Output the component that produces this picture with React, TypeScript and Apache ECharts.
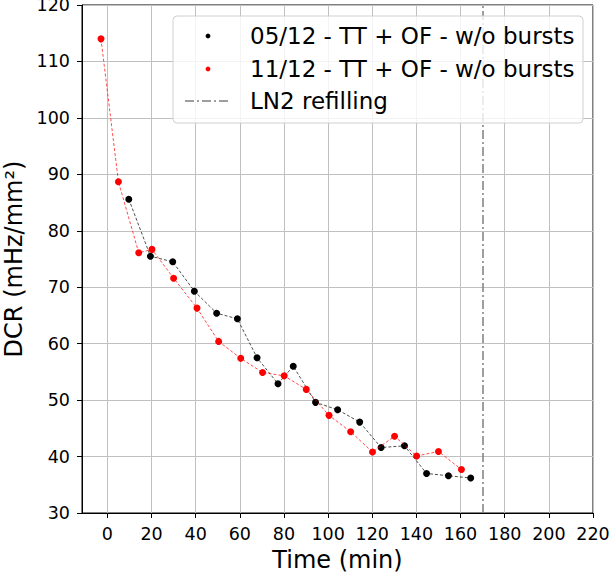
import React, { useEffect, useRef } from "react";
import * as echarts from "echarts";

const blackX = [9.7, 19.5, 29.6, 39.4, 49.5, 58.9, 67.8, 77.3, 84.2, 94.3, 104.3, 114.3, 124.0, 134.6, 144.6, 154.5, 164.6];
const blackY = [85.6, 75.5, 74.5, 69.3, 65.4, 64.4, 57.5, 52.9, 56.0, 49.6, 48.3, 46.1, 41.6, 41.9, 37.0, 36.6, 36.2];
const redX = [-2.9, 5.0, 14.2, 20.2, 30.0, 40.6, 50.4, 60.4, 70.3, 80.1, 90.1, 100.4, 110.2, 120.1, 130.1, 140.1, 150.0, 160.4];
const redY = [114.0, 88.7, 76.1, 76.7, 71.6, 66.3, 60.4, 57.4, 54.9, 54.3, 51.9, 47.3, 44.4, 40.8, 43.6, 40.1, 40.9, 37.7];
const refillX = 170;
const legendLabels = ["05/12 - TT + OF - w/o bursts", "11/12 - TT + OF - w/o bursts", "LN2 refilling"];
const xLabel = "Time (min)";
const yLabel = "DCR (mHz/mm²)";

const FONT = "DejaVu Sans";

export default function App() {
  const ref = useRef<HTMLDivElement>(null);
  useEffect(() => {
    if (!ref.current) return;
    const chart = echarts.init(ref.current, null, { renderer: "svg" });
    const pairs = (xs: number[], ys: number[]) => xs.map((x, i) => [x, ys[i]]);
    const legX = 173, legY = 16, legW = 410, legH = 107;
    chart.setOption({
      animation: false,
      backgroundColor: "#ffffff",
      grid: {
        left: 82, right: 23, top: 5, bottom: 60,
        containLabel: false,
        outerBoundsMode: "none",
        show: true, borderColor: "#000000", borderWidth: 1, backgroundColor: "transparent",
      },
      xAxis: {
        type: "value",
        min: -11.5,
        max: 220,
        splitNumber: 12,
        name: xLabel,
        nameLocation: "middle",
        nameGap: 31,
        nameTextStyle: { fontFamily: FONT, fontSize: 24, color: "#000" },
        axisLine: { show: true, onZero: false, lineStyle: { color: "#000", width: 1 } },
        axisTick: { show: true, length: 5, lineStyle: { color: "#000" } },
        axisLabel: {
          fontFamily: FONT, fontSize: 17.5, color: "#000", margin: 12,
          showMinLabel: false,
          hideOverlap: false,
          formatter: (v: number) => (Math.abs(v % 20) < 1e-6 ? String(v) : ""),
        },
        splitLine: { show: true, lineStyle: { color: "#c0c0c0", width: 1 } },
      },
      yAxis: {
        type: "value",
        min: 30,
        max: 120,
        interval: 10,
        name: yLabel,
        nameLocation: "middle",
        nameGap: 51,
        nameTextStyle: { fontFamily: FONT, fontSize: 24, color: "#000" },
        axisLine: { show: true, onZero: false, lineStyle: { color: "#000", width: 1 } },
        axisTick: { show: true, length: 5, lineStyle: { color: "#000" } },
        axisLabel: { fontFamily: FONT, fontSize: 17.5, color: "#000", margin: 12 },
        splitLine: { show: true, lineStyle: { color: "#c0c0c0", width: 1 } },
      },
      series: [
        {
          name: legendLabels[0],
          type: "line",
          data: pairs(blackX, blackY),
          symbol: "circle",
          symbolSize: 7,
          itemStyle: { color: "#000000" },
          lineStyle: { color: "#000000", width: 0.7, type: [3, 2] },
          z: 2,
          markLine: {
            silent: true,
            symbol: "none",
            label: { show: false },
            lineStyle: { color: "#7f7f7f", width: 1.5, type: [9, 3, 2, 3] },
            data: [{ xAxis: refillX }],
          },
        },
        {
          name: legendLabels[1],
          type: "line",
          data: pairs(redX, redY),
          symbol: "circle",
          symbolSize: 7,
          itemStyle: { color: "#ff0000" },
          lineStyle: { color: "#ff0000", width: 0.7, type: [3, 2] },
          z: 3,
        },
      ],
      graphic: [
        {
          type: "rect",
          shape: { x: legX, y: legY, width: legW, height: legH, r: 4 },
          style: { fill: "rgba(255,255,255,0.8)", stroke: "#d0d0d0", lineWidth: 1 },
          z: 100,
        },
        { type: "circle", shape: { cx: 208, cy: 36, r: 2.4 }, style: { fill: "#000" }, z: 101 },
        { type: "circle", shape: { cx: 208, cy: 69, r: 2.4 }, style: { fill: "#ff0000" }, z: 101 },
        {
          type: "line",
          shape: { x1: 185, y1: 101, x2: 230, y2: 101 },
          style: { stroke: "#7f7f7f", lineWidth: 1.5, lineDash: [9, 3, 2, 3] },
          z: 101,
        },
        ...legendLabels.map((t, i) => ({
          type: "text",
          x: 250,
          y: [36, 69, 101][i],
          style: { text: t, fontFamily: FONT, fontSize: 23, fill: "#000", textVerticalAlign: "middle", textAlign: "left" },
          z: 101,
        })),
      ],
    });
    return () => chart.dispose();
  }, []);
  return <div ref={ref} style={{ position: "absolute", left: 0, top: 0, width: 616, height: 573 }} />;
}
